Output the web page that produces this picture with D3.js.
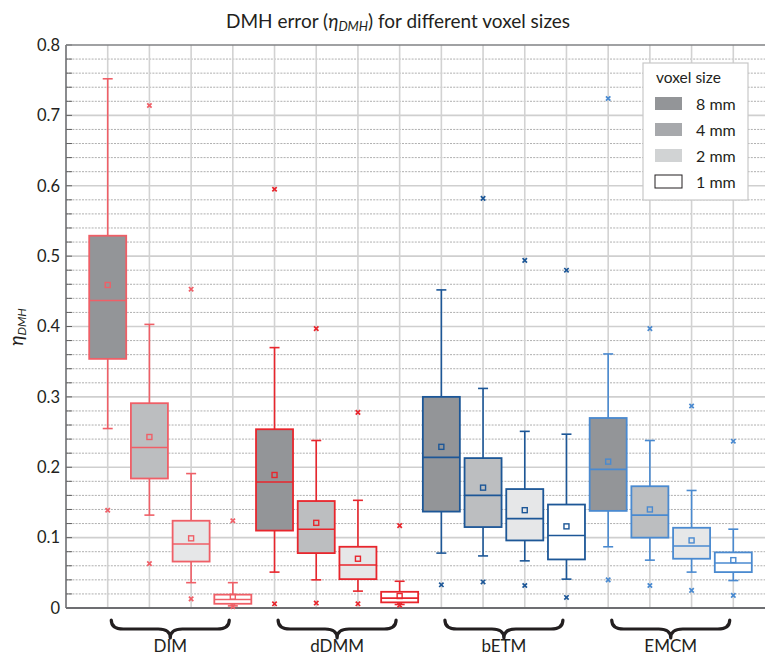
<!DOCTYPE html>
<html><head><meta charset="utf-8">
<script src="https://cdn.jsdelivr.net/npm/d3@7"></script>
<style>
body{margin:0;background:#fff;}
svg{display:block;font-family:Lato,"Noto Sans",sans-serif;}
</style></head>
<body>
<svg id="chart" width="765" height="657"></svg>
<script>
const methods = ["DIM","dDMM","bETM","EMCM"];
const sizes = ["8 mm","4 mm","2 mm","1 mm"];
const methodColors = ["#ef5f67","#e8262d","#1d5797","#4a8ad0"];
const boxFills = ["#939598","#bcbec0","#e6e7e8","#ffffff"];
const legendFills = ["#939598","#a7a9ac","#d1d3d4","#ffffff"];
const yTicks = [0,0.1,0.2,0.3,0.4,0.5,0.6,0.7,0.8];

// per method, per voxel size (8,4,2,1 mm)
const whiskHigh = [[0.752,0.403,0.191,0.036],[0.370,0.238,0.153,0.038],[0.452,0.312,0.251,0.247],[0.361,0.238,0.167,0.112]];
const q3 =        [[0.529,0.291,0.124,0.019],[0.254,0.152,0.087,0.023],[0.300,0.213,0.169,0.147],[0.270,0.173,0.114,0.079]];
const median =    [[0.437,0.228,0.091,0.012],[0.179,0.112,0.061,0.014],[0.214,0.160,0.127,0.103],[0.197,0.132,0.088,0.064]];
const q1 =        [[0.354,0.184,0.066,0.006],[0.110,0.078,0.041,0.008],[0.137,0.115,0.096,0.069],[0.138,0.100,0.070,0.051]];
const whiskLow =  [[0.255,0.132,0.036,0.003],[0.051,0.040,0.024,0.005],[0.078,0.074,0.067,0.041],[0.087,0.068,0.051,0.039]];
const meanVal =   [[0.459,0.243,0.099,0.016],[0.189,0.121,0.070,0.017],[0.229,0.171,0.139,0.116],[0.208,0.140,0.096,0.068]];
const outHigh =   [[null,0.714,0.453,0.124],[0.595,0.397,0.278,0.117],[null,0.582,0.494,0.480],[0.724,0.397,0.287,0.237]];
const outLow =    [[0.139,0.063,0.013,0.002],[0.006,0.007,0.006,0.004],[0.033,0.037,0.032,0.015],[0.040,0.032,0.025,0.018]];

const svg = d3.select("#chart");
const pL = 66, pR = 775, pT = 45, pB = 608;
const x = d3.scaleLinear().domain([0,17]).range([pL,pR]);
const y = d3.scaleLinear().domain([0,0.8]).range([pB,pT]);
const boxW = 37, capW = 10;

// grid
const g = svg.append("g");
const minor = d3.range(0,0.8001,0.02).filter(v=>Math.abs(v*10-Math.round(v*10))>1e-6);
g.selectAll(".minor").data(minor).join("line")
  .attr("x1",pL).attr("x2",pR).attr("y1",d=>y(d)).attr("y2",d=>y(d))
  .attr("stroke","#9a9a9a").attr("stroke-width",0.8).attr("stroke-dasharray","2,1.2");
g.selectAll(".major").data(yTicks.slice(1,8)).join("line")
  .attr("x1",pL).attr("x2",pR).attr("y1",d=>y(d)).attr("y2",d=>y(d))
  .attr("stroke","#cfcfcf").attr("stroke-width",1.6);
g.selectAll(".vgrid").data(d3.range(1,17)).join("line")
  .attr("x1",d=>x(d)).attr("x2",d=>x(d)).attr("y1",pT).attr("y2",pB)
  .attr("stroke","#d2d2d2").attr("stroke-width",1.6);

// axes
const yAxis = d3.axisLeft(y).tickValues(yTicks).tickSize(0).tickPadding(6).tickFormat(d=>d===0?"0":d3.format(".1f")(d));
const ya = svg.append("g").attr("transform",`translate(${pL},0)`).call(yAxis);
ya.select(".domain").remove();
ya.selectAll("text").attr("font-size",16.5).attr("fill","#231f20").attr("font-family","Lato,sans-serif");
svg.append("g").selectAll("line").data(d3.range(0,0.8001,0.02)).join("line")
  .attr("x1",pL).attr("x2",pL+6).attr("y1",d=>y(d)).attr("y2",d=>y(d))
  .attr("stroke","#555").attr("stroke-width",0.9);
svg.append("line").attr("x1",pL).attr("x2",pL).attr("y1",pT).attr("y2",pB).attr("stroke","#6d6e71").attr("stroke-width",1.6);
svg.append("line").attr("x1",pL).attr("x2",pR).attr("y1",pT).attr("y2",pT).attr("stroke","#808285").attr("stroke-width",1.6);
svg.append("line").attr("x1",pL).attr("x2",pR).attr("y1",pB).attr("y2",pB).attr("stroke","#6d6e71").attr("stroke-width",2.2);

// boxes
const items = [];
methods.forEach((m,i)=>sizes.forEach((s,j)=>items.push({i,j,pos:i*4+j+1})));
const bx = svg.append("g");
items.forEach(d=>{
  const c = methodColors[d.i], cx = x(d.pos);
  const gg = bx.append("g");
  gg.append("line").attr("x1",cx).attr("x2",cx).attr("y1",y(whiskHigh[d.i][d.j])).attr("y2",y(q3[d.i][d.j])).attr("stroke",c).attr("stroke-width",1.6);
  gg.append("line").attr("x1",cx).attr("x2",cx).attr("y1",y(q1[d.i][d.j])).attr("y2",y(whiskLow[d.i][d.j])).attr("stroke",c).attr("stroke-width",1.6);
  [whiskHigh[d.i][d.j],whiskLow[d.i][d.j]].forEach(v=>
    gg.append("line").attr("x1",cx-capW/2).attr("x2",cx+capW/2).attr("y1",y(v)).attr("y2",y(v)).attr("stroke",c).attr("stroke-width",1.6));
  gg.append("rect").attr("x",cx-boxW/2).attr("width",boxW)
    .attr("y",y(q3[d.i][d.j])).attr("height",y(q1[d.i][d.j])-y(q3[d.i][d.j]))
    .attr("fill",boxFills[d.j]).attr("stroke",c).attr("stroke-width",1.8);
  gg.append("line").attr("x1",cx-boxW/2).attr("x2",cx+boxW/2).attr("y1",y(median[d.i][d.j])).attr("y2",y(median[d.i][d.j])).attr("stroke",c).attr("stroke-width",1.6);
  gg.append("rect").attr("x",cx-2.5).attr("y",y(meanVal[d.i][d.j])-2.5).attr("width",5).attr("height",5)
    .attr("fill","none").attr("stroke",c).attr("stroke-width",1.4);
  [outHigh[d.i][d.j],outLow[d.i][d.j]].filter(v=>v!==null).forEach(v=>{
    const yy=y(v), r=2.2;
    gg.append("path").attr("d",`M${cx-r},${yy-r}L${cx+r},${yy+r}M${cx-r},${yy+r}L${cx+r},${yy-r}`)
      .attr("stroke",c).attr("stroke-width",1.7).attr("fill","none");
  });
});

// title
const title = svg.append("text").attr("x",398).attr("y",28).attr("text-anchor","middle")
  .attr("font-size",19).attr("fill","#231f20");
title.append("tspan").text("DMH error (");
title.append("tspan").attr("font-style","italic").text("η");
title.append("tspan").attr("font-style","italic").attr("font-size",13).attr("dy",3).text("DMH");
title.append("tspan").attr("dy",-3).text(") for different voxel sizes");

// y label
const yl = svg.append("text").attr("transform","translate(23,327) rotate(-90)").attr("text-anchor","middle")
  .attr("font-size",19).attr("fill","#231f20").attr("font-style","italic");
yl.append("tspan").text("η");
yl.append("tspan").attr("font-size",12).attr("dy",3).text("DMH");

// braces + group labels
const br = svg.append("g");
methods.forEach((m,i)=>{
  const xm = (x(i*4+1)+x(i*4+4))/2, x1 = xm-59, x2 = xm+59;
  const y0=620, y1=629, y2=638, r=12;
  br.append("path").attr("d",
    `M${x1},${y0} Q${x1},${y1} ${x1+r},${y1} L${xm-r},${y1} Q${xm},${y1} ${xm},${y2} Q${xm},${y1} ${xm+r},${y1} L${x2-r},${y1} Q${x2},${y1} ${x2},${y0}`)
    .attr("fill","none").attr("stroke","#231f20").attr("stroke-width",3.2).attr("stroke-linecap","round").attr("stroke-linejoin","round");
  br.append("text").attr("x",xm).attr("y",652).attr("text-anchor","middle").attr("font-size",17).attr("fill","#231f20").text(m);
});

// legend
const lg = svg.append("g").attr("transform","translate(643,63)");
lg.append("rect").attr("width",105).attr("height",137).attr("fill","#fff").attr("stroke","#c8c8c8").attr("stroke-width",1.2);
lg.append("text").attr("x",13).attr("y",20).attr("font-size",15.5).attr("fill","#231f20").text("voxel size");
sizes.forEach((s,j)=>{
  const yy = 41 + j*26;
  lg.append("rect").attr("x",12).attr("y",yy-7).attr("width",27).attr("height",13)
    .attr("fill",legendFills[j]).attr("stroke",j===3?"#231f20":"none").attr("stroke-width",1);
  lg.append("text").attr("x",53).attr("y",yy+5.5).attr("font-size",16).attr("fill","#231f20").text(s);
});
</script>
</body></html>
